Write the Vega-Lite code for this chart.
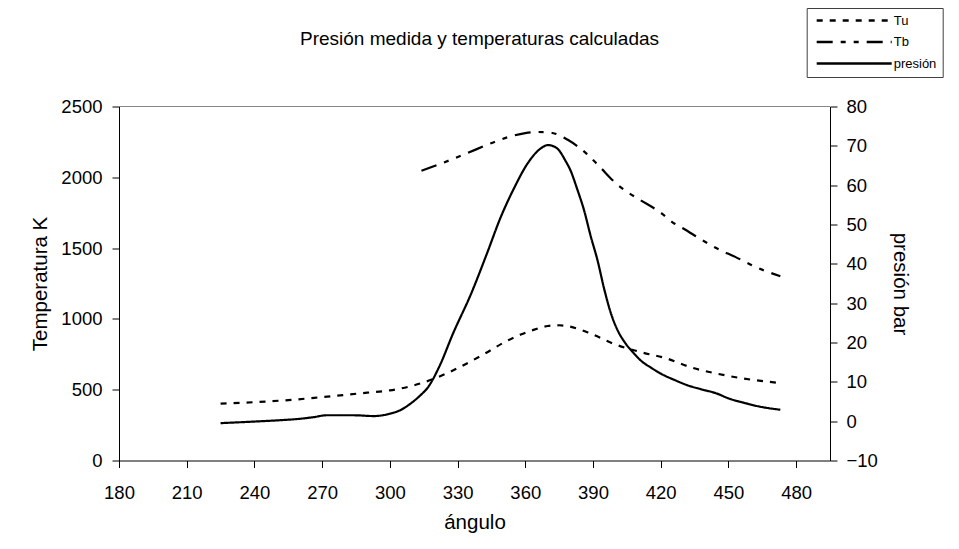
{
  "$schema": "https://vega.github.io/schema/vega-lite/v6.json",
  "width": 711,
  "height": 354,
  "autosize": {"type": "none"},
  "padding": {"left": 119, "top": 106.5, "right": 129, "bottom": 88.5},
  "background": "white",
  "title": {
    "text": "Presión medida y temperaturas calculadas",
    "font": "Liberation Sans",
    "fontSize": 19,
    "fontWeight": "normal",
    "color": "black",
    "anchor": "middle",
    "frame": "group",
    "offset": -41,
    "dx": 5
  },
  "config": {
    "view": {"stroke": null},
    "axis": {
      "labelFont": "Liberation Sans",
      "titleFont": "Liberation Sans",
      "labelFontSize": 18.5,
      "titleFontSize": 20.5,
      "titleFontWeight": "normal",
      "labelColor": "black",
      "titleColor": "black",
      "domainColor": "black",
      "tickColor": "black",
      "tickSize": 7,
      "grid": false,
      "labelFlush": false,
      "labelOverlap": false
    },
    "legend": {
      "labelFont": "Liberation Sans",
      "labelFontSize": 13,
      "labelColor": "black"
    }
  },
  "data": {
    "values": [
      {"angulo": 225, "serie": "Tu", "valor": 401},
      {"angulo": 240, "serie": "Tu", "valor": 412},
      {"angulo": 257, "serie": "Tu", "valor": 429},
      {"angulo": 270, "serie": "Tu", "valor": 448},
      {"angulo": 290, "serie": "Tu", "valor": 479},
      {"angulo": 300, "serie": "Tu", "valor": 495},
      {"angulo": 310, "serie": "Tu", "valor": 528},
      {"angulo": 320, "serie": "Tu", "valor": 580},
      {"angulo": 331, "serie": "Tu", "valor": 660},
      {"angulo": 342, "serie": "Tu", "valor": 754},
      {"angulo": 351, "serie": "Tu", "valor": 837},
      {"angulo": 358, "serie": "Tu", "valor": 890},
      {"angulo": 364, "serie": "Tu", "valor": 924},
      {"angulo": 370, "serie": "Tu", "valor": 950},
      {"angulo": 375, "serie": "Tu", "valor": 955},
      {"angulo": 379, "serie": "Tu", "valor": 948},
      {"angulo": 389, "serie": "Tu", "valor": 896},
      {"angulo": 399, "serie": "Tu", "valor": 825},
      {"angulo": 411, "serie": "Tu", "valor": 766},
      {"angulo": 423, "serie": "Tu", "valor": 719},
      {"angulo": 433, "serie": "Tu", "valor": 660},
      {"angulo": 445, "serie": "Tu", "valor": 613},
      {"angulo": 457, "serie": "Tu", "valor": 578},
      {"angulo": 472, "serie": "Tu", "valor": 549},
      {"angulo": 314, "serie": "Tb", "valor": 2046},
      {"angulo": 324, "serie": "Tb", "valor": 2105},
      {"angulo": 334, "serie": "Tb", "valor": 2169},
      {"angulo": 344, "serie": "Tb", "valor": 2235},
      {"angulo": 352, "serie": "Tb", "valor": 2282},
      {"angulo": 360, "serie": "Tb", "valor": 2312},
      {"angulo": 366, "serie": "Tb", "valor": 2320},
      {"angulo": 372, "serie": "Tb", "valor": 2313},
      {"angulo": 379, "serie": "Tb", "valor": 2263},
      {"angulo": 387, "serie": "Tb", "valor": 2169},
      {"angulo": 393, "serie": "Tb", "valor": 2074},
      {"angulo": 400, "serie": "Tb", "valor": 1960},
      {"angulo": 405, "serie": "Tb", "valor": 1898},
      {"angulo": 411, "serie": "Tb", "valor": 1839},
      {"angulo": 420, "serie": "Tb", "valor": 1750},
      {"angulo": 426, "serie": "Tb", "valor": 1674},
      {"angulo": 430, "serie": "Tb", "valor": 1638},
      {"angulo": 438, "serie": "Tb", "valor": 1560},
      {"angulo": 445, "serie": "Tb", "valor": 1497},
      {"angulo": 453, "serie": "Tb", "valor": 1438},
      {"angulo": 462, "serie": "Tb", "valor": 1367},
      {"angulo": 473, "serie": "Tb", "valor": 1301},
      {"angulo": 225, "serie": "presión", "valor": -0.5},
      {"angulo": 240, "serie": "presión", "valor": -0.1},
      {"angulo": 250, "serie": "presión", "valor": 0.2},
      {"angulo": 260, "serie": "presión", "valor": 0.6},
      {"angulo": 266, "serie": "presión", "valor": 1.0},
      {"angulo": 272, "serie": "presión", "valor": 1.5},
      {"angulo": 284, "serie": "presión", "valor": 1.5},
      {"angulo": 293, "serie": "presión", "valor": 1.3},
      {"angulo": 300, "serie": "presión", "valor": 1.9},
      {"angulo": 305, "serie": "presión", "valor": 2.9},
      {"angulo": 309, "serie": "presión", "valor": 4.4},
      {"angulo": 313, "serie": "presión", "valor": 6.3},
      {"angulo": 317, "serie": "presión", "valor": 8.7},
      {"angulo": 322, "serie": "presión", "valor": 14.0},
      {"angulo": 328, "serie": "presión", "valor": 22.3},
      {"angulo": 336, "serie": "presión", "valor": 32.4},
      {"angulo": 343, "serie": "presión", "valor": 42.6},
      {"angulo": 349, "serie": "presión", "valor": 51.7},
      {"angulo": 355, "serie": "presión", "valor": 59.2},
      {"angulo": 361, "serie": "presión", "valor": 65.5},
      {"angulo": 367, "serie": "presión", "valor": 69.4},
      {"angulo": 370, "serie": "presión", "valor": 70.2},
      {"angulo": 374, "serie": "presión", "valor": 69.4},
      {"angulo": 378, "serie": "presión", "valor": 66.0},
      {"angulo": 380, "serie": "presión", "valor": 63.8},
      {"angulo": 383, "serie": "presión", "valor": 59.0},
      {"angulo": 386, "serie": "presión", "valor": 53.7},
      {"angulo": 389, "serie": "presión", "valor": 47.0},
      {"angulo": 392, "serie": "presión", "valor": 40.9},
      {"angulo": 395, "serie": "presión", "valor": 33.5},
      {"angulo": 398, "serie": "presión", "valor": 27.3},
      {"angulo": 401, "serie": "presión", "valor": 23.0},
      {"angulo": 404, "serie": "presión", "valor": 20.1},
      {"angulo": 408, "serie": "presión", "valor": 17.3},
      {"angulo": 411, "serie": "presión", "valor": 15.5},
      {"angulo": 416, "serie": "presión", "valor": 13.5},
      {"angulo": 420, "serie": "presión", "valor": 12.1},
      {"angulo": 426, "serie": "presión", "valor": 10.5},
      {"angulo": 432, "serie": "presión", "valor": 9.1},
      {"angulo": 438, "serie": "presión", "valor": 8.1},
      {"angulo": 445, "serie": "presión", "valor": 7.0},
      {"angulo": 450, "serie": "presión", "valor": 5.8},
      {"angulo": 456, "serie": "presión", "valor": 4.8},
      {"angulo": 463, "serie": "presión", "valor": 3.8},
      {"angulo": 473, "serie": "presión", "valor": 2.9}
    ]
  },
  "layer": [
    {
      "layer": [
        {
          "mark": {"type": "rule", "color": "#868686", "strokeWidth": 1.2},
          "encoding": {"y": {"datum": 2500, "type": "quantitative"}}
        },
        {
          "transform": [{"filter": "datum.serie !== 'presión'"}],
          "mark": {"type": "line", "interpolate": "monotone", "strokeWidth": 2.2, "color": "black"},
          "encoding": {
            "x": {
              "field": "angulo", "type": "quantitative",
              "scale": {"domain": [180, 495], "nice": false, "zero": false},
              "axis": {"title": "ángulo", "values": [180, 210, 240, 270, 300, 330, 360, 390, 420, 450, 480], "format": "d", "labelPadding": 15.5, "titlePadding": 11}
            },
            "y": {
              "field": "valor", "type": "quantitative",
              "scale": {"domain": [0, 2500], "nice": false, "zero": false},
              "axis": {"title": "Temperatura K", "values": [0, 500, 1000, 1500, 2000, 2500], "format": "d", "labelPadding": 10, "titlePadding": 10}
            },
            "strokeDash": {
              "field": "serie", "type": "nominal",
              "scale": {"domain": ["Tu", "Tb", "presión"], "range": [[6, 7], [16, 8, 5, 8, 5, 8], [1, 0]]},
              "legend": {
                "title": null,
                "orient": "none",
                "legendX": 687.7,
                "legendY": -98.5,
                "strokeColor": "#404040",
                "padding": 6,
                "symbolType": "M-7.5,0H7.5",
                "symbolSize": 100,
                "symbolStrokeWidth": 2.5,
                "symbolStrokeColor": "black",
                "symbolOffset": 35,
                "labelOffset": 33,
                "rowPadding": 7.5
              }
            }
          }
        }
      ]
    },
    {
      "transform": [{"filter": "datum.serie === 'presión'"}],
      "mark": {"type": "line", "interpolate": "monotone", "strokeWidth": 2.2, "color": "black"},
      "encoding": {
        "x": {
          "field": "angulo", "type": "quantitative",
          "scale": {"domain": [180, 495], "nice": false, "zero": false}
        },
        "y": {
          "field": "valor", "type": "quantitative",
          "scale": {"domain": [-10, 80], "nice": false, "zero": false},
          "axis": {"orient": "right", "title": "presión bar", "values": [-10, 0, 10, 20, 30, 40, 50, 60, 70, 80], "format": "d", "labelPadding": 9, "titlePadding": 12}
        },
        "strokeDash": {
          "field": "serie", "type": "nominal",
          "scale": {"domain": ["Tu", "Tb", "presión"], "range": [[6, 7], [16, 8, 5, 8, 5, 8], [1, 0]]}
        }
      }
    }
  ],
  "resolve": {"scale": {"y": "independent"}}
}
